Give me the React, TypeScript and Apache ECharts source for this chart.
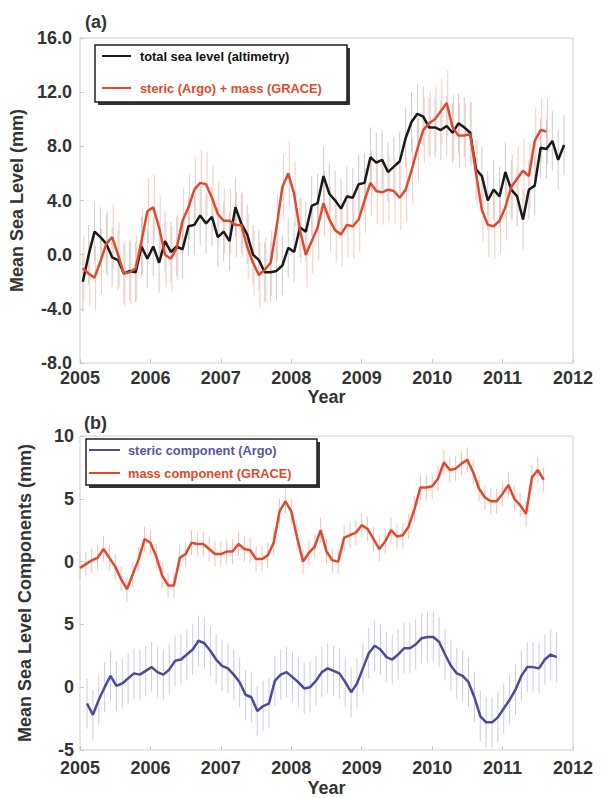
import React, { useEffect, useRef } from "react";
import * as echarts from "echarts";

// ---------- data (monthly values, mm) ----------
const START_A = 2005.04; // first month of panel (a) series
const START_MASS = 2005.0;
const START_STERIC = 2005.1;
const MONTHS_PER_YEAR = 12;

const totalAltimetry = [
  -2.0, 0.0, 1.7, 1.3, 0.8, -0.2, -0.4, -1.4, -1.2, -1.3,
  0.6, -0.3, 0.6, -0.6, 1.0, 0.2, 0.6, 0.4, 2.1, 2.2,
  2.9, 2.3, 2.8, 1.3, 1.7, 1.0, 3.5, 2.3, 1.5, 0.0,
  -0.4, -1.3, -1.3, -1.2, -0.8, 0.5, 0.2, 2.0, 1.7, 3.6,
  3.8, 5.8, 4.5, 4.0, 3.4, 4.3, 4.2, 5.2, 5.3, 7.2,
  6.8, 7.0, 6.1, 6.5, 6.9, 8.6, 9.8, 10.4, 10.2, 9.4,
  9.4, 9.2, 9.5, 9.0, 9.7, 9.4, 9.0, 6.3, 5.8, 4.0,
  4.8, 4.3, 6.1, 4.8, 4.3, 2.6, 4.8, 5.1, 7.9, 7.8,
  8.4, 7.0, 8.1,
];

const stericPlusMass = [
  -1.0, -1.4, -1.7, -0.5, 0.8, 1.3, 0.0, -1.4, -1.3, -1.0,
  1.0, 3.2, 3.5, 2.0, 0.0, -0.3, 0.5, 2.5, 3.5, 4.8,
  5.3, 5.2, 4.2, 3.0, 2.5, 2.5, 2.2, 2.2, 0.6, -0.6,
  -1.5, -1.1, -0.6, 2.0, 5.0, 6.0, 4.5, 1.8, 0.0, 1.0,
  2.0, 3.8, 2.6, 1.8, 1.5, 2.2, 2.1, 2.6, 4.0, 5.3,
  4.7, 4.6, 4.8, 4.7, 4.2, 4.8, 6.2, 7.8, 9.2, 9.7,
  10.0, 10.6, 11.2, 9.4, 8.8, 8.8, 8.9, 6.0, 3.3, 2.2,
  2.1, 2.5, 3.5, 5.0, 5.6, 6.2, 5.8, 8.4, 9.2, 9.1,
];

const massGrace = [
  -0.5, -0.2, 0.1, 0.3, 1.0, 0.3, -0.4, -1.4, -2.2, -1.0,
  0.2, 1.8, 1.5, 0.4, -1.1, -1.9, -1.9, 0.3, 0.6, 1.5,
  1.4, 1.4, 1.0, 0.6, 0.6, 0.8, 0.8, 1.4, 1.0, 0.9,
  0.2, 0.2, 0.5, 1.5, 4.0, 4.8, 4.0, 1.9, 0.0, 0.7,
  1.2, 2.5, 0.8, 0.1, 0.0, 1.9, 2.1, 2.3, 2.9, 2.6,
  1.8, 1.0, 1.6, 2.5, 2.0, 2.1, 2.8, 4.2, 5.9, 5.9,
  6.0, 6.6, 7.9, 7.3, 7.4, 7.8, 8.1, 7.1, 5.8, 5.1,
  4.8, 4.8, 5.4, 6.1, 5.0, 4.5, 3.8, 6.7, 7.3, 6.5,
];

const stericArgo = [
  -1.3, -2.2, -1.0, 0.0, 0.9, 0.1, 0.3, 0.7, 1.1, 1.0,
  1.3, 1.6, 1.2, 1.0, 1.4, 2.1, 2.2, 2.6, 3.0, 3.7,
  3.5, 2.9, 2.2, 1.7, 1.5, 1.0, 0.4, -0.6, -0.8, -1.9,
  -1.5, -1.3, 0.5, 1.0, 1.2, 0.8, 0.4, -0.1, 0.0, 0.5,
  1.2, 1.5, 1.3, 1.1, 0.4, -0.4, 0.3, 1.5, 2.7, 3.3,
  3.0, 2.4, 2.2, 2.6, 3.1, 3.1, 3.4, 3.9, 4.0, 4.0,
  3.6, 2.6, 1.7, 1.1, 0.9, 0.4, -0.8, -2.3, -2.8, -2.8,
  -2.4, -1.7, -1.0, -0.2, 0.9, 1.6, 1.6, 1.5, 2.2, 2.6,
  2.4,
];

// error-bar half widths (mm)
const ERR_TOTAL = 2.2;
const ERR_SUM = 2.4;
const ERR_MASS = 1.0;
const ERR_STERIC = 2.0;

// mass component is drawn shifted up by 10 mm in panel (b)
const MASS_OFFSET = 10;

const LABEL_A = "(a)";
const LABEL_B = "(b)";
const LEGEND_A = ["total sea level (altimetry)", "steric (Argo) + mass (GRACE)"];
const LEGEND_B = ["steric component (Argo)", "mass component (GRACE)"];

// ---------- styling ----------
const BLACK = "#1a1a1a";
const RED = "#e2492b";
const BLUE = "#4b4b9b";
const FONT = "Liberation Sans, Arial, sans-serif";

const toPairs = (vals: number[], start: number, offset = 0) =>
  vals.map((v, i) => [start + i / MONTHS_PER_YEAR, v + offset]);
const toBars = (vals: number[], start: number, err: number, offset = 0) =>
  vals.map((v, i) => [start + i / MONTHS_PER_YEAR, v + offset - err, v + offset + err]);

const errRender = (color: string) => (params: any, api: any) => {
  const x = api.value(0);
  const p1 = api.coord([x, api.value(1)]);
  const p2 = api.coord([x, api.value(2)]);
  return {
    type: "line",
    shape: { x1: p1[0], y1: p1[1], x2: p2[0], y2: p2[1] },
    style: { stroke: color, lineWidth: 1 },
  };
};

const axisLabelStyle = {
  color: "#333",
  fontSize: 18,
  fontWeight: "bold" as const,
  fontFamily: FONT,
};

function legendGroup(
  x: number, y: number, w: number, h: number,
  items: { text: string; color: string; textColor: string; y: number }[],
  lineX1: number, lineX2: number, textX: number
) {
  const children: any[] = [
    { type: "rect", shape: { x: x + 3, y: y + 3, width: w, height: h }, style: { fill: "#333" } },
    { type: "rect", shape: { x, y, width: w, height: h }, style: { fill: "#fff", stroke: "#222", lineWidth: 1.5 } },
  ];
  items.forEach((it) => {
    children.push({
      type: "line",
      shape: { x1: lineX1, y1: it.y, x2: lineX2, y2: it.y },
      style: { stroke: it.color, lineWidth: 2 },
    });
    children.push({
      type: "text",
      x: textX,
      y: it.y,
      style: {
        text: it.text,
        fill: it.textColor,
        font: `bold 12.8px ${FONT}`,
        verticalAlign: "middle",
        align: "left",
      },
    });
  });
  return { type: "group", children };
}

export default function App() {
  const ref = useRef<HTMLDivElement>(null);

  useEffect(() => {
    if (!ref.current) return;
    const chart = echarts.init(ref.current, undefined, { renderer: "svg" });

    const tickStyle = { show: true, inside: true, length: 4, lineStyle: { color: "#c8c8c8" } };
    const xAxisBase = {
      type: "value" as const,
      min: 2005,
      max: 2012,
      interval: 1,
      axisLine: { show: false, onZero: false },
      axisTick: tickStyle,
      splitLine: { show: false },
      name: "Year",
      nameLocation: "middle" as const,
      nameTextStyle: { ...axisLabelStyle },
    };

    const option: any = {
      animation: false,
      backgroundColor: "#fff",
      grid: [
        { left: 80, top: 38, width: 493, height: 325, show: true, borderColor: "#cfcfcf", borderWidth: 1, backgroundColor: "transparent" },
        { left: 80, top: 436, width: 493, height: 319, show: true, borderColor: "#cfcfcf", borderWidth: 1, backgroundColor: "transparent" },
      ],
      xAxis: [
        { ...xAxisBase, gridIndex: 0, nameGap: 23, axisLabel: { ...axisLabelStyle, margin: 6, formatter: (v: number) => String(v) } },
        { ...xAxisBase, gridIndex: 1, nameGap: 29, axisLabel: { ...axisLabelStyle, margin: 9, formatter: (v: number) => String(v) } },
      ],
      yAxis: [
        {
          type: "value", gridIndex: 0, min: -8, max: 16, interval: 4,
          axisLine: { show: false, onZero: false },
          axisTick: tickStyle,
          splitLine: { show: false },
          axisLabel: { ...axisLabelStyle, margin: 8, formatter: (v: number) => v.toFixed(1) },
          name: "Mean Sea Level (mm)", nameLocation: "middle", nameGap: 46,
          nameTextStyle: { ...axisLabelStyle },
        },
        {
          type: "value", gridIndex: 1, min: -5, max: 20, interval: 5,
          axisLine: { show: false, onZero: false },
          axisTick: tickStyle,
          splitLine: { show: false },
          axisLabel: {
            ...axisLabelStyle, margin: 6,
            formatter: (v: number) => (v >= MASS_OFFSET ? String(v - MASS_OFFSET) : String(v)),
          },
          name: "Mean Sea Level Components (mm)", nameLocation: "middle", nameGap: 46,
          nameTextStyle: { ...axisLabelStyle },
        },
      ],
      series: [
        {
          name: "err total", type: "custom", xAxisIndex: 0, yAxisIndex: 0,
          renderItem: errRender("#cdcdcd"), encode: { x: 0, y: [1, 2] },
          data: toBars(totalAltimetry, START_A, ERR_TOTAL), z: 1,
        },
        {
          name: "err sum", type: "custom", xAxisIndex: 0, yAxisIndex: 0,
          renderItem: errRender("#f8cabf"), encode: { x: 0, y: [1, 2] },
          data: toBars(stericPlusMass, START_A + 0.015, ERR_SUM), z: 1,
        },
        {
          name: LEGEND_A[0], type: "line", xAxisIndex: 0, yAxisIndex: 0,
          data: toPairs(totalAltimetry, START_A), symbol: "none",
          lineStyle: { color: BLACK, width: 2.5 }, itemStyle: { color: BLACK }, z: 3,
        },
        {
          name: LEGEND_A[1], type: "line", xAxisIndex: 0, yAxisIndex: 0,
          data: toPairs(stericPlusMass, START_A), symbol: "none",
          lineStyle: { color: RED, width: 2.5 }, itemStyle: { color: RED }, z: 4,
        },
        {
          name: "err mass", type: "custom", xAxisIndex: 1, yAxisIndex: 1,
          renderItem: errRender("#f6bfb2"), encode: { x: 0, y: [1, 2] },
          data: toBars(massGrace, START_MASS, ERR_MASS, MASS_OFFSET), z: 1,
        },
        {
          name: "err steric", type: "custom", xAxisIndex: 1, yAxisIndex: 1,
          renderItem: errRender("#cbcbea"), encode: { x: 0, y: [1, 2] },
          data: toBars(stericArgo, START_STERIC, ERR_STERIC), z: 1,
        },
        {
          name: LEGEND_B[0], type: "line", xAxisIndex: 1, yAxisIndex: 1,
          data: toPairs(stericArgo, START_STERIC), symbol: "none",
          lineStyle: { color: BLUE, width: 2.5 }, itemStyle: { color: BLUE }, z: 3,
        },
        {
          name: LEGEND_B[1], type: "line", xAxisIndex: 1, yAxisIndex: 1,
          data: toPairs(massGrace, START_MASS, MASS_OFFSET), symbol: "none",
          lineStyle: { color: RED, width: 2.5 }, itemStyle: { color: RED }, z: 3,
        },
      ],
      graphic: [
        { type: "text", x: 85, y: 22, style: { text: LABEL_A, font: `bold 18px ${FONT}`, fill: "#333", verticalAlign: "middle" } },
        { type: "text", x: 84, y: 423, style: { text: LABEL_B, font: `bold 18px ${FONT}`, fill: "#333", verticalAlign: "middle" } },
        legendGroup(95, 45, 252, 57, [
          { text: LEGEND_A[0], color: BLACK, textColor: "#111", y: 56 },
          { text: LEGEND_A[1], color: RED, textColor: RED, y: 88 },
        ], 102, 131, 140),
        legendGroup(86, 439, 231, 46, [
          { text: LEGEND_B[0], color: BLUE, textColor: "#5555a8", y: 450 },
          { text: LEGEND_B[1], color: RED, textColor: RED, y: 473 },
        ], 89, 120, 128),
      ],
    };

    chart.setOption(option);
    return () => chart.dispose();
  }, []);

  return (
    <div
      ref={ref}
      style={{ position: "absolute", left: 0, top: 0, width: 609, height: 798, background: "#fff" }}
    />
  );
}
